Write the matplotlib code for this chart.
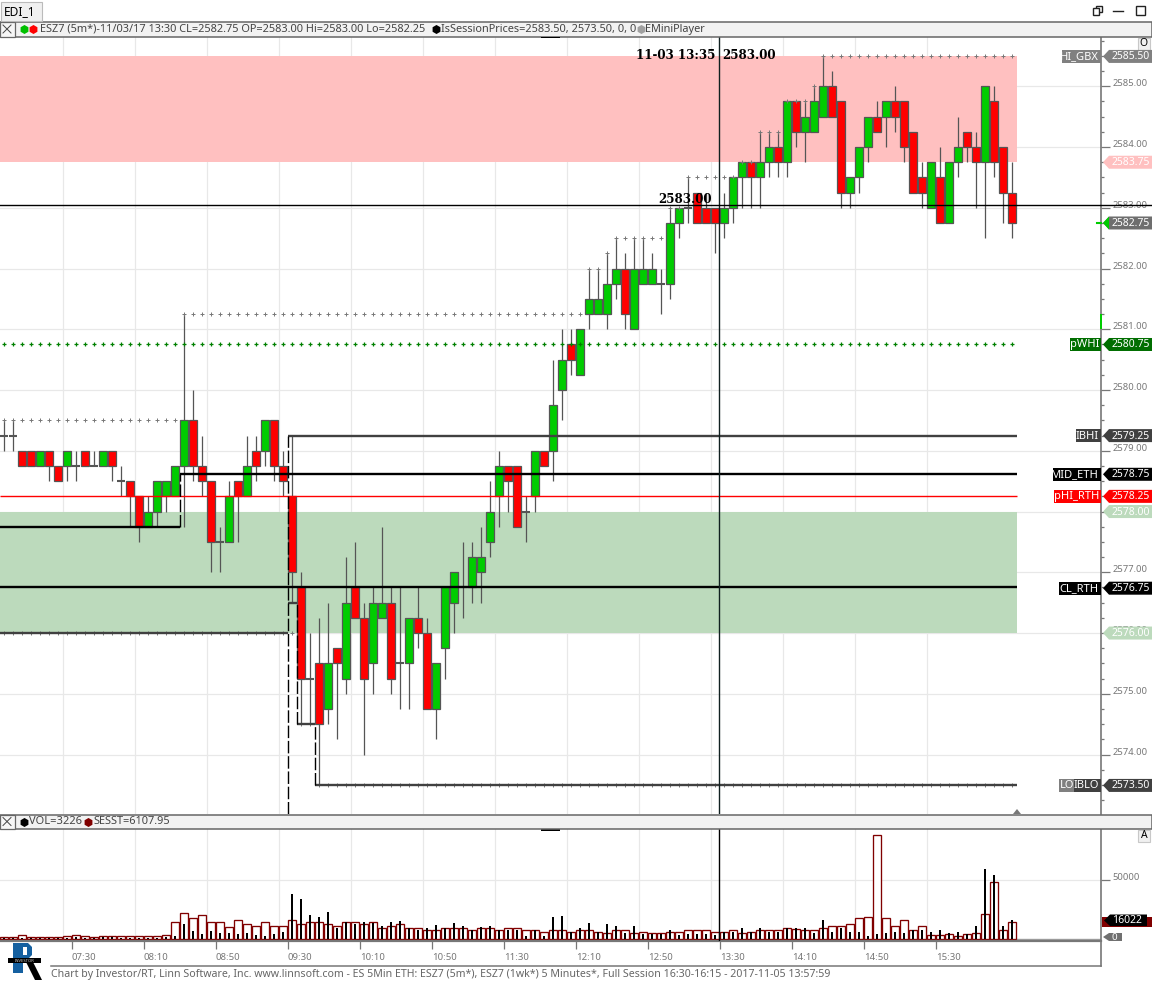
import numpy as np
import matplotlib
matplotlib.use('Agg')
import matplotlib.pyplot as plt
from matplotlib.patches import Polygon, Rectangle

plt.rcParams['font.family'] = ['Noto Sans', 'DejaVu Sans']

# 5 minute bars ESZ7
opens = [2579.25,2579.25,2579,2579,2578.75,2579,2578.75,2578.75,2578.75,2579,2578.75,2578.75,2579,2578.5,2578.5,2578.25,2577.75,2578,2578.25,2578.25,
         2578.75,2579.5,2578.75,2578.5,2577.5,2577.5,2578.5,2578.25,2579,2579,2579.5,2578.75,2578.25,2576.75,2575.25,2575.5,2574.75,2575.75,2575.25,2576.75,
         2576.25,2575.5,2576.25,2576.5,2575.5,2575.5,2576.25,2576,2574.75,2575.75,2576.5,2576.75,2576.75,2577,2577.5,2578.25,2578.75,2578.75,2578,2578.25,
         2579,2579,2580,2580.75,2580.25,2581.25,2581.25,2581.25,2581.75,2582,2581,2581.75,2581.75,2581.75,2581.75,2582.75,2583,2583.25,2583,2583,
         2582.75,2583,2583.5,2583.75,2583.5,2583.75,2584,2583.75,2584.75,2584.25,2584.25,2584.5,2585,2584.75,2583.25,2583.5,2584,2584.5,2584.5,2584.75,
         2584.75,2584.25,2583.5,2583,2583.5,2582.75,2583.75,2584.25,2584,2583.75,2584.75,2584,2583.25]
highs = [2579.5,2579.5,2579,2579,2579,2579,2578.75,2579,2579,2579,2579,2579,2579,2578.75,2578.5,2578.25,2578.25,2578.5,2578.5,2578.75,
         2581.25,2580,2579.25,2578.5,2577.75,2578.5,2578.5,2579.25,2579.25,2579.5,2579.5,2579,2579.25,2577,2576,2576.25,2576.5,2575.75,2577.25,2577.5,
         2576.5,2576.75,2577.75,2576.75,2576.75,2576.25,2576.75,2576.25,2575.5,2576.75,2577,2577.5,2577.5,2577.75,2578.5,2579,2578.75,2578.75,2578.25,2579,
         2579,2580.5,2581,2581,2581,2582,2582,2582.25,2582.5,2582.25,2582.5,2582.5,2582.25,2582,2583,2583,2583.5,2583.25,2583.25,2583,
         2583.25,2583.5,2583.75,2583.75,2584.25,2584.25,2584.25,2584.75,2584.75,2584.75,2585,2585.5,2585.25,2584.75,2583.5,2584,2584.5,2584.75,2584.75,2585,
         2584.75,2584.25,2583.75,2583.75,2584,2583.75,2584.5,2584.25,2584.25,2585,2585,2584,2583.75]
lows = [2579,2579,2578.75,2578.75,2578.75,2578.5,2578.5,2578.5,2578.5,2578.75,2578.75,2578.75,2578.5,2578.25,2577.75,2577.5,2577.75,2577.75,2578,2578.25,
        2577.75,2578.5,2578.25,2577,2577,2577.5,2577.5,2578.25,2578.5,2578.75,2578.5,2578.25,2576.5,2574.5,2574.5,2573.5,2574.5,2574.25,2575,2576.25,
        2574,2575,2576.25,2575,2574.75,2574.75,2575.75,2574.75,2574.25,2575.25,2576,2576.25,2576.5,2576.5,2577.25,2577.75,2578,2577.75,2577.5,2578,
        2578.75,2578.5,2579.5,2580.25,2580.25,2581,2581.25,2581,2581.5,2581,2581,2581.75,2581.75,2581.25,2581.5,2582.5,2582.75,2582.75,2582.75,2582.25,
        2582.5,2582.75,2583,2583,2583,2583.5,2583.5,2583.5,2584,2583.75,2584.25,2584.5,2584.5,2583,2583,2583.25,2583.75,2584.25,2584,2584.25,
        2583.75,2583.25,2583,2583,2582.75,2582.75,2583.5,2583.75,2583,2582.5,2583.5,2582.75,2582.5]
closes = [2579.25,2579.25,2578.75,2578.75,2579,2578.75,2578.5,2579,2578.75,2578.75,2578.75,2579,2578.75,2578.5,2578.25,2577.75,2578,2578.5,2578.5,2578.75,
          2579.5,2578.75,2578.5,2577.5,2577.5,2578.25,2578.25,2578.75,2578.75,2579.5,2578.75,2578.5,2577,2575.25,2575.25,2574.5,2575.5,2575.5,2576.5,2576.25,
          2575.25,2576.5,2576.5,2575.25,2575.5,2576.25,2576,2574.75,2575.5,2576.75,2577,2576.75,2577.25,2577.25,2578,2578.75,2578.5,2577.75,2578,2579,
          2578.75,2579.75,2580.5,2580.5,2581,2581.5,2581.5,2581.75,2582,2581.25,2582,2582,2582,2581.75,2582.75,2583,2583,2582.75,2582.75,2582.75,
          2583,2583.5,2583.75,2583.5,2583.75,2584,2583.75,2584.75,2584.25,2584.5,2584.75,2585,2584.5,2583.25,2583.5,2584,2584.5,2584.25,2584.75,2584.5,
          2584,2583.25,2583.25,2583.75,2582.75,2583.75,2584,2584,2583.75,2585,2583.75,2583.25,2582.75]

# volume panel
vol = [500,600,700,600,500,500,400,600,1400,800,600,1000,900,800,700,600,800,700,1200,2000,
       11900,6200,3700,6200,4500,4500,3700,4500,2800,2000,3700,5400,37600,33300,19800,18600,22300,8800,13800,12700,
       13800,13000,10200,14400,14700,8500,6800,8500,11300,9300,13000,10200,7600,9600,10200,6800,7600,6800,2000,6800,
       2000,18100,18900,5900,8500,13000,5900,11900,11000,5100,11000,4200,4200,3700,6800,2800,3700,3700,3700,3226,
       5400,5400,8500,5400,8500,5400,5400,8500,8500,8500,4500,15500,5400,8500,5400,5400,2000,3700,4500,5400,
       4500,6800,6800,5900,6800,5100,5900,4200,11000,58500,53400,10200,16022]
sesst = [1400,1400,3100,1400,1400,1400,1100,2300,3100,2300,1400,2300,2300,2300,2300,2300,2300,2300,3100,14100,
         22000,17500,20300,13600,14100,9900,15300,12700,11000,13600,11000,10200,15300,12700,13600,14400,12700,11000,14400,13600,
         11900,14400,9300,10200,11900,8500,9300,6800,7600,8500,9300,8500,7600,8500,9300,7600,9300,9300,6800,6800,
         5900,6800,7600,5900,6800,6800,5900,5100,7600,6800,5100,5900,5100,5100,5900,5900,6800,6800,6800,5900,
         5900,6800,5100,5900,6800,6800,7600,9300,8200,7600,7600,9300,11000,10200,12700,17800,18600,87300,17800,11000,
         15300,6800,10200,3400,3400,4200,2500,4200,5100,21200,47500,7600,13600]

time_labels = ['07:30','08:10','08:50','09:30','10:10','10:50','11:30','12:10','12:50','13:30','14:10','14:50','15:30']
price_ticks = [2574,2575,2576,2577,2578,2579,2580,2581,2582,2583,2584,2585]
prev_session_low = 2576.0
pwhi = 2580.75
mid_eth = 2578.625  # the tag shows it rounded to 2578.75
cross_price = 2583.046

bars = np.arange(len(opens))
opens, highs, lows, closes = map(np.array, (opens, highs, lows, closes))

W, H = 1152, 982
def px_axes(x0, y0, x1, y1):
    return fig.add_axes([x0/W, 1-y1/H, (x1-x0)/W, (y1-y0)/H])

fig = plt.figure(figsize=(W/100, H/100), dpi=100, facecolor='white')
xlim = (-4/9, 1097/9)
grid_x = 6.61 + 8*np.arange(13)
time_x = 7.556 + 8*np.arange(13)
GRID = '#e8e8e8'
CROSS = 79.4
LAST = 112.5

# ---------- price panel
ax = px_axes(0, 37, 1101, 814)
ax.set_xlim(xlim)
ax.set_ylim(2573.021, 2585.811)
ax.set_xticks(grid_x)
ax.set_yticks(price_ticks)
ax.set_yticks(np.arange(2573.25, 2585.8, 0.25), minor=True)
ax.set_yticklabels(['%.2f' % p for p in price_ticks], fontsize=6.8, color='#777777', va='baseline')
ax.yaxis.tick_right()
ax.tick_params(axis='x', length=0, labelbottom=False)
ax.tick_params(axis='y', which='major', length=6.5, width=0.9, color='#777777', pad=1.5)
ax.tick_params(axis='y', which='minor', length=2.5, width=0.9, color='#777777')
ax.grid(True, color=GRID, lw=0.9, zorder=0)
ax.set_axisbelow(True)
for s in ['left', 'top', 'bottom']:
    ax.spines[s].set_visible(False)
ax.spines['right'].set_color('#777777')
ax.spines['right'].set_linewidth(1.2)

# zones
ax.fill_between([xlim[0], LAST], 2583.75, 2585.5, color='#ffc0c0', lw=0, zorder=1)
ax.fill_between([xlim[0], LAST], 2576, 2578, color='#bcdabc', lw=0, zorder=1)

# candles
edge = '#555555'
ax.vlines(bars, lows, highs, color=edge, lw=0.9, zorder=3)
for i in bars:
    if opens[i] == closes[i]:
        ax.hlines(opens[i], i-0.42, i+0.42, color=edge, lw=1.5, zorder=3)
    else:
        col = '#00cc00' if closes[i] > opens[i] else '#ff0000'
        ax.bar(i, abs(closes[i]-opens[i]), bottom=min(opens[i], closes[i]), width=0.78,
               facecolor=col, edgecolor=edge, lw=0.9, zorder=3.2)

# running high / low and pWHI dots
run_high = np.maximum.accumulate(highs)
run_low = np.minimum.accumulate(np.minimum(lows, prev_session_low))
ax.plot(bars, run_high, ls='', marker='+', ms=2.6, mew=0.7, color='#777777', zorder=3.5)
ax.plot(bars, run_low, ls='', marker='+', ms=2.6, mew=0.7, color='#777777', zorder=2.5)
ax.plot(bars, [pwhi]*len(bars), ls='', marker='+', ms=2.8, mew=0.9, color='#008000', zorder=3.5)

# level lines
dark = '#404040'
ax.hlines(2578.25, xlim[0], LAST, color='#ff0000', lw=1, zorder=4)
ax.hlines(2576.75, xlim[0], LAST, color='black', lw=1.7, zorder=4)
ax.hlines(2577.75, xlim[0], 19.5, color='black', lw=1.7, zorder=4)
ax.hlines(mid_eth, 19.5, LAST, color='black', lw=1.7, zorder=4)
ax.hlines(2579.25, 31.5, LAST, color=dark, lw=1.7, zorder=4)
ax.hlines(2576, xlim[0], 31.5, color=dark, lw=1.7, zorder=4)
ax.hlines(2576.5, 31.5, 32.5, color=dark, lw=1.7, zorder=4)
ax.hlines(2574.5, 32.5, 34.5, color=dark, lw=1.7, zorder=4)
ax.hlines(2573.5, 34.5, LAST, color=dark, lw=1.7, zorder=4)
dash = (0, (9, 2))
ax.vlines(19.5, 2577.75, mid_eth, color='black', lw=1.0, ls=dash, zorder=4)
ax.vlines(31.5, 2573.021, 2579.25, color='black', lw=1.0, ls=dash, zorder=4)
ax.vlines(32.5, 2574.5, 2576.5, color='black', lw=1.0, ls=dash, zorder=4)
ax.vlines(34.5, 2573.5, 2574.5, color='black', lw=1.0, ls=dash, zorder=4)

# crosshair
ax.axvline(CROSS, color='#102020', lw=1, zorder=5)
ax.axhline(cross_price, color='black', lw=1, zorder=5)

# ---------- volume panel
av = px_axes(0, 829, 1101, 941)
av.set_xlim(xlim)
av.set_ylim(-2100, 92800)
av.set_xticks(grid_x)
av.set_yticks([50000])
av.set_yticklabels(['50000'], fontsize=6.8, color='#777777', va='baseline')
av.yaxis.tick_right()
av.set_xticks(time_x, labels=[''] * len(time_x), minor=True)
av.tick_params(axis='x', which='major', length=0, labelbottom=False)
av.tick_params(axis='x', which='minor', length=5.5, width=0.9, color='#777777')
av.tick_params(axis='y', length=6.5, width=0.9, color='#777777', pad=1.5)
av.grid(True, color=GRID, lw=0.9, zorder=0)
av.set_axisbelow(True)
av.bar(bars, sesst, width=0.8, facecolor='white', edgecolor='#800000', lw=0.95, zorder=2)
av.bar(bars, vol, width=0.2, color='black', lw=0, zorder=3)
av.axhline(0, color='#a0a0a0', lw=1, zorder=1.5)
av.axvline(CROSS, color='black', lw=1, zorder=5)
for s in ['left', 'top']:
    av.spines[s].set_visible(False)
av.spines['right'].set_color('#777777')
av.spines['right'].set_linewidth(1.2)
av.spines['bottom'].set_color('#777777')
av.spines['bottom'].set_linewidth(1.6)

# ---------- overlay with the chart window furniture, pixel coordinates
ov = fig.add_axes([0, 0, 1, 1], zorder=10)
ov.set_xlim(0, W)
ov.set_ylim(H, 0)
ov.axis('off')
ov.patch.set_alpha(0)

def band(y0, y1):
    ov.add_patch(Rectangle((0, y0), W, y1-y0, fc='#f2f2f2', ec='#666666', lw=1.1))
    ov.add_patch(Rectangle((0, y0), 14.5, y1-y0, fc='#f6f6f6', ec='#666666', lw=0.9))
    ym = (y0+y1)/2
    ov.plot([3, 11], [ym-4, ym+4], color='#444444', lw=0.7)
    ov.plot([3, 11], [ym+4, ym-4], color='#444444', lw=0.7)

def head(x, y, s, color='#444444', size=7.9, **kw):
    ov.text(x, y, s, color=color, fontsize=size, va='center', ha='left', **kw)

def dot(x, y, color):
    ov.plot([x], [y], marker='h', ms=6.5, color=color, mew=0)

band(21.5, 36.5)
ov.add_patch(Rectangle((0.5, 2), 41.5, 19, fc='#f0f0f0', ec='#bbbbbb', lw=0.8))
head(4, 11.5, 'EDI_1', color='black', size=8.6)
dot(24, 29, '#00c000')
dot(33, 29, '#ff0000')
head(40, 29, 'ESZ7 (5m*)-11/03/17 13:30 CL=2582.75 OP=2583.00 Hi=2583.00 Lo=2582.25')
dot(436, 29, 'black')
head(441, 29, 'IsSessionPrices=2583.50, 2573.50, 0, 0')
dot(641, 29, '#a0a0a0')
head(645, 29, 'EMiniPlayer')
ov.add_patch(Rectangle((541, 36.5), 19, 1.5, fc='black', ec='none'))
ov.add_patch(Rectangle((541, 829), 19, 1.5, fc='black', ec='none'))

band(814.5, 828.5)
dot(24, 821.5, 'black')
head(29, 821.5, 'VOL=3226', size=8.0)
dot(88, 821.5, '#800000')
head(93, 821.5, 'SESST=6107.95')

# window buttons
ov.add_patch(Rectangle((1095.5, 5.5), 6.5, 6.5, fc='none', ec='#222222', lw=1))
ov.add_patch(Rectangle((1092.5, 7.5), 6.5, 7, fc='white', ec='#222222', lw=1))
ov.plot([1113, 1123], [10.5, 10.5], color='#222222', lw=1)
ov.add_patch(Rectangle((1135.5, 5.5), 9, 9, fc='none', ec='#222222', lw=1))

# O and A buttons
for x, y, s in [(1143.5, 43.5, 'O'), (1144, 836, 'A')]:
    ov.add_patch(Rectangle((x-6, y-6), 12, 12, fc='#f0f0f0', ec='#c8c8c8', lw=0.8))
    ov.text(x, y, s, fontsize=7.5, color='black', ha='center', va='center')

ov.add_patch(Polygon([(1013, 814), (1017, 809), (1021, 814)], fc='#777777', ec='none'))

# crosshair extension and its labels
ycross = 86.3 + (2585 - cross_price)*60.75
ov.plot([1101, 1152], [ycross, ycross], color='black', lw=1)
serif = ['DejaVu Serif']
ov.text(636, 55, '11-03 13:35', family=serif, weight='bold', fontsize=8.6, color='black', va='center')
ov.text(722, 55, '2583.00', family=serif, weight='bold', fontsize=8.6, color='black', va='center')
ov.text(658, 199, '2583.00', family=serif, weight='bold', fontsize=8.6, color='black', va='center')

# price tags at the axis
def py(p):
    return 86.3 + (2585-p)*60.75

def tag(y, price, color, tcolor='white', name=None, x0=None):
    ov.add_patch(Polygon([(1103, y), (1109, y-6.5), (1152, y-6.5), (1152, y+6.5), (1109, y+6.5)], fc=color, ec='none'))
    ov.text(1111.5, y+0.5, price, color=tcolor, fontsize=7.5, va='center', ha='left')
    if name:
        ov.add_patch(Rectangle((x0, y-6.5), 1101-x0, 13, fc=color, ec='none'))
        ov.text(1099, y+0.5, name, color='white', fontsize=8, va='center', ha='right')

tag(py(2585.5)+0.5, '2585.50', '#808080', name='HI_GBX', x0=1062)
tag(py(2583.75), '2583.75', '#ffc0c0')
tag(py(2582.75), '2582.75', '#6e6e6e')
ov.add_patch(Polygon([(1103, py(2582.75)), (1109, py(2582.75)-6.5), (1109, py(2582.75)+6.5)], fc='#00cc00', ec='none'))
ov.plot([1097, 1101], [py(2582.75)]*2, color='#00cc00', lw=1.5)
ov.add_patch(Rectangle((1099.5, py(2581.25)), 2, 15, fc='#00cc00', ec='none'))
tag(py(2580.75), '2580.75', '#006e00', name='pWHI', x0=1070)
tag(py(2579.25), '2579.25', '#404040', name='IBHI', x0=1076)
tag(py(mid_eth)+0.7, '2578.75', 'black', name='MID_ETH', x0=1053)
tag(py(2578.25), '2578.25', '#ff0000', name='pHI_RTH', x0=1054)
tag(py(2578), '2578.00', '#bcdabc')
tag(py(2576.75)+0.7, '2576.75', 'black', name='CL_RTH', x0=1059)
tag(py(2576), '2576.00', '#bcdabc')
tag(py(2573.5)+0.5, '2573.50', '#404040', name='IBLO', x0=1074)
ov.add_patch(Rectangle((1059, py(2573.5)-6), 15, 13, fc='#808080', ec='none'))
ov.text(1060, py(2573.5)+1, 'LO', color='white', fontsize=8, va='center', ha='left')

# volume side tags
ov.add_patch(Rectangle((1102, 917), 50, 10, fc='#800000', ec='none'))
ov.add_patch(Polygon([(1104, 920.5), (1110, 914.5), (1147, 914.5), (1147, 926), (1110, 926)], fc='black', ec='none'))
ov.text(1112, 920.5, '16022', color='white', fontsize=7.5, va='center', ha='left')
ov.add_patch(Polygon([(1103, 937), (1109, 933), (1122, 933), (1122, 941), (1109, 941)], fc='#707070', ec='none'))
ov.text(1111, 937.5, '0', color='white', fontsize=7, va='center', ha='left')

# time labels and frame of the time scale
for x, s in zip(72 + 72*np.arange(13), time_labels):
    ov.text(x, 958, s, color='#777777', fontsize=6.9, va='center', ha='left')
ov.plot([51, 1101], [965.5, 965.5], color='#777777', lw=1.1)
ov.plot([1101, 1101], [941, 965.5], color='#777777', lw=1.2)
ov.text(51, 975, 'Chart by Investor/RT, Linn Software, Inc. www.linnsoft.com - ES 5Min ETH: ESZ7 (5m*), ESZ7 (1wk*) 5 Minutes*, Full Session 16:30-16:15 - 2017-11-05 13:57:59',
        color='#666666', fontsize=7.62, va='center', ha='left')

# logo
blue = '#1560a0'
ov.add_patch(Polygon([(13, 943), (28, 943), (32, 947), (32, 955), (28, 959), (23, 959), (23, 973), (13, 973)], fc=blue, ec='none'))
ov.add_patch(Rectangle((23, 947), 4, 8, fc='white', ec='none'))
ov.add_patch(Polygon([(24, 958), (31, 958), (42, 980), (35, 980)], fc='black', ec='none'))
ov.add_patch(Rectangle((8, 958), 33, 5, fc='black', ec='none'))
ov.text(24.5, 960.5, 'INVESTOR', color='#cccccc', fontsize=3, ha='center', va='center')

fig.savefig('out.png', dpi=100)
